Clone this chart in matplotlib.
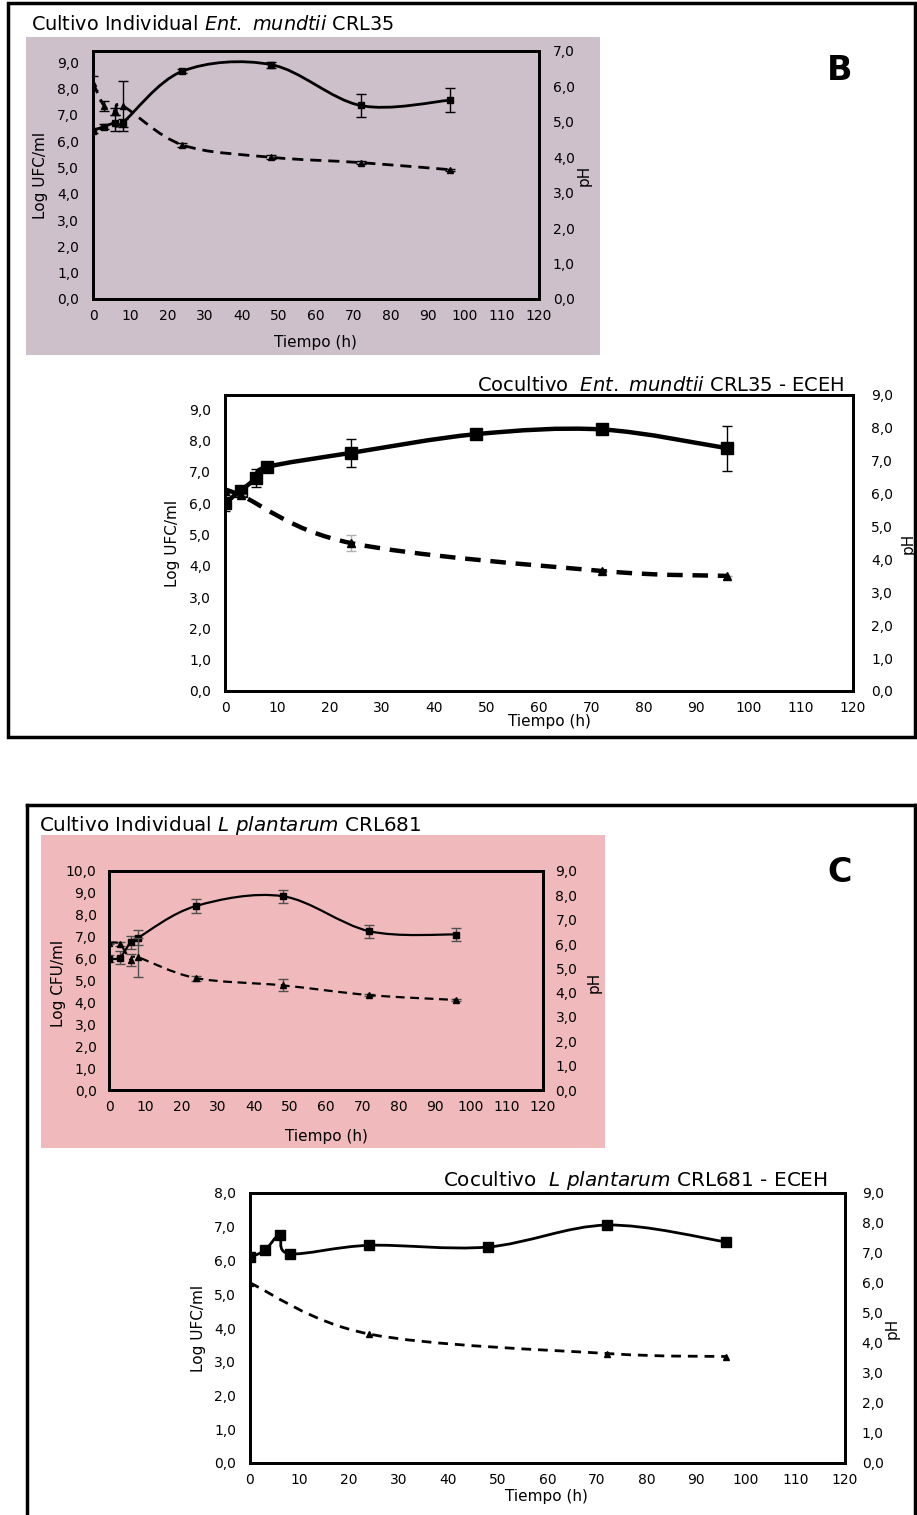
import numpy as np
import matplotlib.pyplot as plt
from matplotlib.path import Path
from matplotlib.patches import PathPatch, Rectangle

W, H = 917, 1515

# --- data ---
# B, individual culture Ent. mundtii CRL35
hours_b_ind = [0, 3, 6, 8, 24, 48, 72, 96]
ufc_b_ind = [6.4, 6.55, 6.7, 6.7, 8.65, 8.9, 7.35, 7.55]
ufc_b_ind_err = [0.1, 0.1, 0.3, 0.15, 0.08, 0.12, 0.45, 0.45]
ph_b_ind = [6.1, 5.45, 5.3, 5.45, 4.35, 4.0, 3.85, 3.65]
ph_b_ind_err = [0.2, 0.15, 0.1, 0.7, 0.06, 0.06, 0.05, 0.03]

# B, coculture Ent. mundtii CRL35 - ECEH
hours_b_co = [0, 3, 6, 8, 24, 48, 72, 96]
ufc_b_co = [6.0, 6.4, 6.8, 7.15, 7.6, 8.2, 8.35, 7.75]
ufc_b_co_err = [0.25, 0.1, 0.28, 0.12, 0.45, 0.06, 0.1, 0.72]
ph_hours_b_co = [0, 3, 24, 72, 96]
ph_b_co = [6.1, 5.95, 4.5, 3.65, 3.5]
ph_b_co_err = [0.0, 0.0, 0.25, 0.0, 0.0]

# C, individual culture L. plantarum CRL681
hours_c_ind = [0, 3, 6, 8, 24, 48, 72, 96]
ufc_c_ind = [6.0, 6.05, 6.75, 6.95, 8.4, 8.85, 7.25, 7.1]
ufc_c_ind_err = [0.15, 0.3, 0.3, 0.35, 0.3, 0.3, 0.3, 0.3]
ph_c_ind = [6.05, 6.0, 5.35, 5.45, 4.6, 4.3, 3.9, 3.7]
ph_c_ind_err = [0.05, 0.1, 0.25, 0.8, 0.1, 0.25, 0.05, 0.05]

# C, coculture L. plantarum CRL681 - ECEH
hours_c_co = [0, 3, 6, 8, 24, 48, 72, 96]
ufc_c_co = [6.1, 6.3, 6.75, 6.2, 6.45, 6.4, 7.05, 6.55]
ph_hours_c_co = [0, 24, 72, 96]
ph_c_co = [6.0, 4.3, 3.65, 3.55]

x_ticks = list(range(0, 121, 10))


def comma(vals):
    return [f"{v:.1f}".replace('.', ',') for v in vals]


def smooth(x, y):
    # excel-like smoothed line: catmull-rom turned into bezier segments
    p = np.column_stack([x, y]).astype(float)
    n = len(p)
    verts = [p[0]]
    codes = [Path.MOVETO]
    for i in range(n - 1):
        p0 = p[i - 1] if i > 0 else p[i]
        p3 = p[i + 2] if i + 2 < n else p[i + 1]
        verts += [p[i] + (p[i + 1] - p0) / 6, p[i + 1] - (p3 - p[i]) / 6, p[i + 1]]
        codes += [Path.CURVE4] * 3
    return Path(verts, codes)


fig = plt.figure(figsize=(W / 100, H / 100), dpi=100)
renderer = fig.canvas.get_renderer()


def fx(x):
    return x / W


def fy(y):
    return 1 - y / H


def fit_text(x, y, s, width, **kw):
    t = fig.text(fx(x), fy(y), s, **kw)
    bb = t.get_window_extent(renderer)
    t.set_fontsize(t.get_fontsize() * width / bb.width)
    return t


def panel(l, t, r, b, ylim_l, yt_l, ylim_r, yt_r, lw, pad_l, pad_r):
    ax = fig.add_axes([fx(l), fy(b), (r - l) / W, (b - t) / H])
    ax2 = ax.twinx()
    ax.patch.set_visible(False)
    ax.set_xlim(0, 120)
    ax.set_ylim(*ylim_l)
    ax2.set_ylim(*ylim_r)
    ax.set_xticks(x_ticks)
    ax.set_xticklabels([str(v) for v in x_ticks])
    ax.set_yticks(yt_l)
    ax.set_yticklabels(comma(yt_l))
    ax2.set_yticks(yt_r)
    ax2.set_yticklabels(comma(yt_r))
    ax.tick_params(axis='x', length=0, pad=7, labelsize=10)
    ax.tick_params(axis='y', length=0, pad=pad_l, labelsize=10)
    ax2.tick_params(axis='y', length=0, pad=pad_r, labelsize=10)
    for a in (ax, ax2):
        for s in a.spines.values():
            s.set_linewidth(lw)
            s.set_color('black')
    return ax, ax2


def curve(ax, x, y, lw, ls, marker, ms, err=None, ecolor='black'):
    if err is not None:
        ax.errorbar(x, y, yerr=err, fmt='none', ecolor=ecolor, elinewidth=1,
                    capsize=3.5, capthick=1, zorder=3)
    ax.add_patch(PathPatch(smooth(x, y), fill=False, lw=lw, ls=ls,
                           edgecolor='black', capstyle='butt', zorder=4))
    ax.plot(x, y, ls='none', marker=marker, ms=ms, color='black', zorder=5)


# ---------------- panel B ----------------
fig.add_artist(Rectangle((fx(8), fy(737)), fx(915) - fx(8), fy(3) - fy(737),
                         transform=fig.transFigure, fill=False, lw=2.5, color='black'))
fig.add_artist(Rectangle((fx(26), fy(355)), fx(600) - fx(26), fy(37) - fy(355),
                         transform=fig.transFigure, color='#cdc0cb', lw=0, zorder=0))
fit_text(31, 24, r"Cultivo Individual $\mathit{Ent.\ mundtii}$ CRL35", 362,
         fontsize=13, va='center', ha='left')
fig.text(fx(840), fy(70), "B", fontsize=24, fontweight='bold', ha='center', va='center')

ax, ax2 = panel(93, 51, 539, 299, (0, 9.42), np.arange(0, 9.1, 1.0),
                (0, 7), np.arange(0, 7.1, 1.0), 2.0, 10, 10)
curve(ax, hours_b_ind, ufc_b_ind, 2.0, '-', 's', 5, ufc_b_ind_err)
curve(ax2, hours_b_ind, ph_b_ind, 2.0, (0, (4, 2.5)), '^', 4.5, ph_b_ind_err)
fig.text(fx(40), fy(175), "Log UFC/ml", rotation=90, ha='center', va='center', fontsize=11)
fig.text(fx(584), fy(175), "pH", rotation=90, ha='center', va='center', fontsize=11)
fig.text(fx(315), fy(342), "Tiempo (h)", ha='center', va='center', fontsize=11)

fit_text(477, 385, r"Cocultivo  $\mathit{Ent.\ mundtii}$ CRL35 - ECEH", 368,
         fontsize=13, va='center', ha='left')
ax, ax2 = panel(225, 395, 853, 691, (0, 9.45), np.arange(0, 9.1, 1.0),
                (0, 9), np.arange(0, 9.1, 1.0), 2.0, 10, 13)
curve(ax, hours_b_co, ufc_b_co, 3.2, '-', 's', 8, ufc_b_co_err)
curve(ax2, ph_hours_b_co, ph_b_co, 3.2, (0, (3.5, 2.2)), '^', 6, ph_b_co_err,
      ecolor='#b0b0b0')
fig.text(fx(172), fy(543), "Log UFC/ml", rotation=90, ha='center', va='center', fontsize=11)
fig.text(fx(908), fy(543), "pH", rotation=90, ha='center', va='center', fontsize=11)
fig.text(fx(549), fy(721), "Tiempo (h)", ha='center', va='center', fontsize=11)

# ---------------- panel C ----------------
for xs, ys in [((27, 915), (805, 805)), ((27, 27), (805, 1515)), ((915, 915), (805, 1515))]:
    fig.add_artist(plt.Line2D([fx(xs[0]), fx(xs[1])], [fy(ys[0]), fy(ys[1])],
                              transform=fig.transFigure, lw=2.5, color='black'))
fig.add_artist(Rectangle((fx(41), fy(1148)), fx(605) - fx(41), fy(835) - fy(1148),
                         transform=fig.transFigure, color='#f0babc', lw=0, zorder=0))
fit_text(39, 825, r"Cultivo Individual $\mathit{L\ plantarum}$ CRL681", 381,
         fontsize=13, va='center', ha='left')
fig.text(fx(840), fy(872), "C", fontsize=24, fontweight='bold', ha='center', va='center')

ax, ax2 = panel(109, 871, 543, 1090, (0, 10), np.arange(0, 10.1, 1.0),
                (0, 9), np.arange(0, 9.1, 1.0), 2.0, 9, 9)
curve(ax, hours_c_ind, ufc_c_ind, 1.6, '-', 's', 5, ufc_c_ind_err, ecolor='#505050')
curve(ax2, hours_c_ind, ph_c_ind, 1.6, (0, (4, 2.5)), '^', 4, ph_c_ind_err, ecolor='#505050')
fig.text(fx(58), fy(983), "Log CFU/ml", rotation=90, ha='center', va='center', fontsize=11)
fig.text(fx(594), fy(982), "pH", rotation=90, ha='center', va='center', fontsize=11)
fig.text(fx(326), fy(1136), "Tiempo (h)", ha='center', va='center', fontsize=11)

fit_text(443, 1180, r"Cocultivo  $\mathit{L\ plantarum}$ CRL681 - ECEH", 385,
         fontsize=13, va='center', ha='left')
ax, ax2 = panel(250, 1193, 845, 1463, (0, 8), np.arange(0, 8.1, 1.0),
                (0, 9), np.arange(0, 9.1, 1.0), 2.0, 10, 12)
curve(ax, hours_c_co, ufc_c_co, 2.0, '-', 's', 7)
curve(ax2, ph_hours_c_co, ph_c_co, 2.0, (0, (3.5, 2.5)), '^', 4.5)
fig.text(fx(198), fy(1328), "Log UFC/ml", rotation=90, ha='center', va='center', fontsize=11)
fig.text(fx(892), fy(1328), "pH", rotation=90, ha='center', va='center', fontsize=11)
fig.text(fx(546), fy(1497), "Tiempo (h)", ha='center', va='center', fontsize=11)

fig.savefig('out.png', dpi=100)
